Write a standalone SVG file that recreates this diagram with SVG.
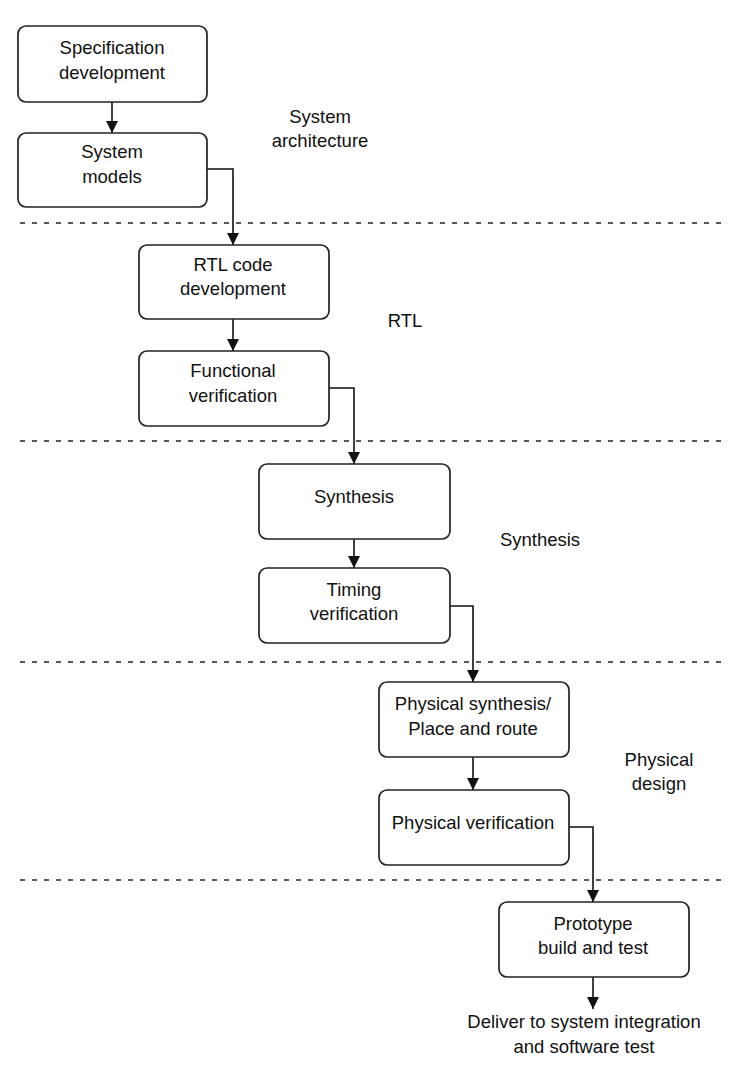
<svg xmlns="http://www.w3.org/2000/svg" width="745" height="1074" viewBox="0 0 745 1074">
<defs>
<marker id="ah" markerWidth="12" markerHeight="12" refX="12" refY="6" orient="auto" markerUnits="userSpaceOnUse">
<path d="M0,0 L12,6 L0,12 Z" fill="#111"/>
</marker>
<style>
.box{fill:#fff;stroke:#222;stroke-width:1.7}
.t{font-family:"Liberation Sans",Arial,sans-serif;font-size:18.5px;fill:#111;text-anchor:middle}
.c{fill:none;stroke:#111;stroke-width:1.6}
.d{stroke:#222;stroke-width:1.7;stroke-dasharray:5 7}
</style>
</defs>
<rect width="745" height="1074" fill="#fff"/>
<g id="separators">
<line class="d" x1="20" y1="223" x2="726" y2="223"/>
<line class="d" x1="20" y1="441" x2="726" y2="441"/>
<line class="d" x1="20" y1="662" x2="726" y2="662"/>
<line class="d" x1="20" y1="880" x2="726" y2="880"/>
</g>
<g id="phase-labels">
<text class="t" x="320" y="123">System</text>
<text class="t" x="320" y="147">architecture</text>
<text class="t" x="405" y="327">RTL</text>
<text class="t" x="540" y="546">Synthesis</text>
<text class="t" x="659" y="766">Physical</text>
<text class="t" x="659" y="790">design</text>
</g>
<g id="connectors">
<path class="c" d="M112,102 V133" marker-end="url(#ah)"/>
<path class="c" d="M207,169 H233 V245" marker-end="url(#ah)"/>
<path class="c" d="M233,319 V351" marker-end="url(#ah)"/>
<path class="c" d="M329,388 H354 V464" marker-end="url(#ah)"/>
<path class="c" d="M354,539 V568" marker-end="url(#ah)"/>
<path class="c" d="M450,606 H473 V682" marker-end="url(#ah)"/>
<path class="c" d="M473,757 V790" marker-end="url(#ah)"/>
<path class="c" d="M569,827 H593 V902" marker-end="url(#ah)"/>
<path class="c" d="M593,977 V1009" marker-end="url(#ah)"/>
</g>
<g id="spec">
<rect class="box" x="18" y="26" width="189" height="76" rx="8"/>
<text class="t" x="112" y="54">Specification</text>
<text class="t" x="112" y="79">development</text>
</g>
<g id="sysmodels">
<rect class="box" x="18" y="133" width="189" height="74" rx="8"/>
<text class="t" x="112" y="158">System</text>
<text class="t" x="112" y="183">models</text>
</g>
<g id="rtl">
<rect class="box" x="139" y="245" width="190" height="74" rx="8"/>
<text class="t" x="233" y="271">RTL code</text>
<text class="t" x="233" y="295">development</text>
</g>
<g id="funcver">
<rect class="box" x="139" y="351" width="190" height="75" rx="8"/>
<text class="t" x="233" y="377">Functional</text>
<text class="t" x="233" y="402">verification</text>
</g>
<g id="synth">
<rect class="box" x="259" y="464" width="191" height="75" rx="8"/>
<text class="t" x="354" y="503">Synthesis</text>
</g>
<g id="timing">
<rect class="box" x="259" y="568" width="191" height="75" rx="8"/>
<text class="t" x="354" y="596">Timing</text>
<text class="t" x="354" y="620">verification</text>
</g>
<g id="physsynth">
<rect class="box" x="379" y="682" width="190" height="75" rx="8"/>
<text class="t" x="473" y="710">Physical synthesis/</text>
<text class="t" x="473" y="735">Place and route</text>
</g>
<g id="physver">
<rect class="box" x="379" y="790" width="190" height="75" rx="8"/>
<text class="t" x="473" y="829">Physical verification</text>
</g>
<g id="proto">
<rect class="box" x="499" y="902" width="190" height="75" rx="8"/>
<text class="t" x="593" y="930">Prototype</text>
<text class="t" x="593" y="954">build and test</text>
</g>
<g id="deliver">
<text class="t" x="584" y="1028">Deliver to system integration</text>
<text class="t" x="584" y="1053">and software test</text>
</g>
</svg>
